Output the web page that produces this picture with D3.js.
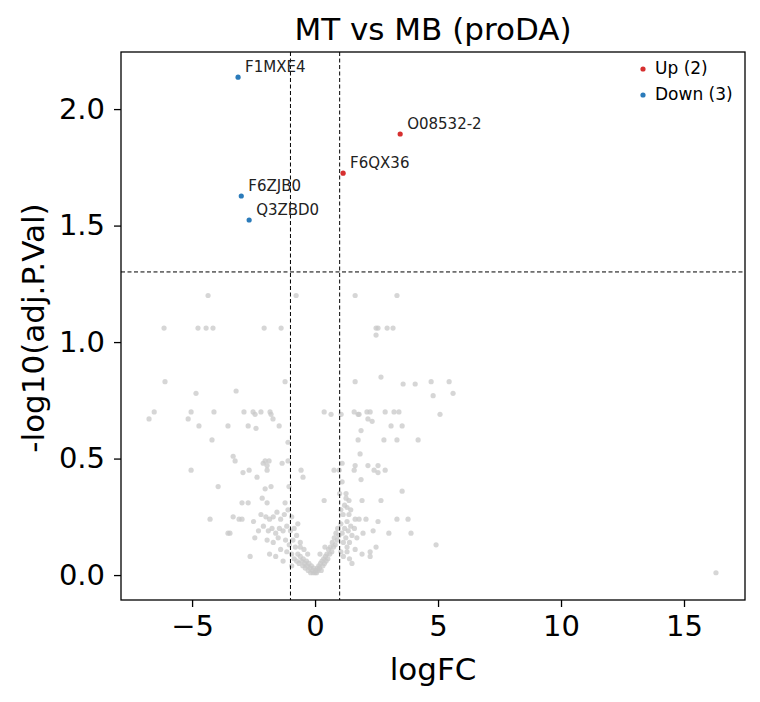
<!DOCTYPE html>
<html><head><meta charset="utf-8">
<script src="https://cdn.jsdelivr.net/npm/d3@7"></script>
<style>body{margin:0;background:#fff}</style>
</head><body>
<svg width="760" height="702"></svg>
<script>
// non-significant proteins [logFC, -log10(adj.P.Val)]
var grey = [
 [-4.35,1.20],[-0.77,1.20],[1.63,1.20],[3.33,1.20],
 [-6.14,1.06],[-4.76,1.06],[-4.43,1.06],[-4.15,1.06],[-2.07,1.06],[-1.38,1.06],
 [2.48,1.06],[2.56,1.06],[2.93,1.06],[3.17,1.06],[2.48,1.03],
 [-6.1,0.83],[-1.22,0.83],[-3.21,0.79],[-4.84,0.78],[1.63,0.83],[2.68,0.85],[3.58,0.82],
 [4.07,0.82],[4.72,0.83],[5.45,0.83],[4.8,0.77],[5.61,0.78],
 [-6.54,0.70],[-6.75,0.67],[-5.04,0.70],[-5.16,0.67],[-4.11,0.70],[-4.72,0.64],[-3.54,0.64],
 [-2.89,0.70],[-2.52,0.70],[-2.44,0.69],[-2.2,0.70],[-1.83,0.70],[-1.79,0.69],[-1.71,0.67],
 [-2.72,0.64],[-2.4,0.63],[-1.46,0.64],[-4.19,0.58],
 [0.37,0.70],[0.65,0.69],[1.06,0.69],[1.59,0.70],[1.75,0.69],[1.79,0.69],[2.11,0.70],[2.24,0.70],
 [2.15,0.67],[2.32,0.66],[2.85,0.70],[3.21,0.70],[3.41,0.70],[5.08,0.69],[1.87,0.62],[3.09,0.64],
 [3.54,0.64],[1.75,0.58],[2.8,0.58],[3.33,0.58],[4.19,0.58],
 [-1.1,0.57],[-3.33,0.51],[-3.25,0.49],[-5.04,0.45],[-2.11,0.48],[-2.03,0.49],[-1.87,0.49],
 [-1.95,0.47],[-1.95,0.45],[-1.34,0.48],[-1.1,0.49],[-2.93,0.44],[-2.68,0.45],[-2.36,0.42],
 [-0.57,0.45],[-0.49,0.42],[-3.94,0.38],[-2.03,0.37],[-1.79,0.38],[-1.06,0.38],[-2.15,0.33],
 [-1.95,0.31],[-2.97,0.31],[-2.72,0.31],[-1.22,0.31],[-4.27,0.24],[-3.33,0.25],[-3.09,0.24],
 [-2.97,0.24],[-3.54,0.18],[-3.46,0.18],[-2.64,0.08],[-1.85,0.09],[-1.6,0.08],
 [1.83,0.52],[1.1,0.48],[1.63,0.47],[1.59,0.45],[2.15,0.47],[2.56,0.47],[2.4,0.45],[2.56,0.44],
 [2.85,0.45],[0.77,0.45],[0.98,0.45],[1.87,0.41],[3.54,0.36],[1.26,0.35],[1.26,0.33],[1.38,0.32],
 [0.37,0.32],[1.91,0.32],[2.68,0.32],[1.3,0.29],[1.14,0.26],[1.38,0.26],[1.63,0.24],[1.79,0.24],
 [2.07,0.24],[2.56,0.23],[3.33,0.24],[3.78,0.24],[3.0,0.18],[3.9,0.18],[2.36,0.19],[1.95,0.18],
 [4.92,0.13],[2.48,0.12],[1.91,0.09],[2.24,0.10],[2.24,0.08],[1.63,0.11],[1.5,0.05],
 [16.3,0.01],
 // left dense cluster
 [-2.2,0.26],[-2.0,0.25],[-1.85,0.24],[-1.7,0.25],[-1.55,0.27],[-1.4,0.24],[-1.25,0.26],[-1.1,0.28],
 [-0.95,0.25],[-2.1,0.21],[-1.9,0.19],[-1.75,0.20],[-1.6,0.18],[-1.45,0.20],[-1.3,0.19],[-1.15,0.21],
 [-1.0,0.19],[-0.85,0.20],[-2.3,0.19],[-1.95,0.15],[-1.7,0.14],[-1.5,0.16],[-1.2,0.15],[-1.05,0.13],
 [-0.9,0.15],[-0.75,0.17],[-1.4,0.11],[-1.15,0.10],[-0.95,0.09],[-0.8,0.12],[-1.3,0.06],[-0.95,0.04],
 [-2.5,0.23],[-2.45,0.16],[-0.7,0.22],[-0.6,0.14],
 // central V
 [-0.85,0.07],[-0.75,0.06],[-0.7,0.09],[-0.65,0.05],[-0.6,0.08],[-0.55,0.06],[-0.5,0.04],[-0.48,0.07],
 [-0.42,0.05],[-0.4,0.03],[-0.35,0.06],[-0.32,0.04],[-0.28,0.02],[-0.25,0.05],[-0.2,0.03],[-0.18,0.01],
 [-0.15,0.04],[-0.1,0.02],[-0.08,0.01],[-0.05,0.03],[0.0,0.01],[0.03,0.02],[0.06,0.01],[0.1,0.03],
 [0.12,0.02],[0.15,0.04],[0.18,0.03],[0.22,0.05],[0.25,0.02],[0.28,0.06],[0.32,0.04],[0.35,0.07],
 [0.38,0.05],[0.42,0.08],[0.45,0.06],[0.48,0.09],[0.52,0.07],[0.55,0.11],[0.6,0.09],[0.62,0.12],
 [0.68,0.10],[0.7,0.14],[0.75,0.12],[0.78,0.16],[0.82,0.13],[0.85,0.18],[0.9,0.15],[0.92,0.20],
 [0.97,0.17],[-0.3,0.09],[0.2,0.09],[-0.45,0.11],[0.4,0.12],[-0.6,0.12],
 // right dense cluster
 [1.05,0.22],[1.1,0.18],[1.15,0.14],[1.2,0.20],[1.25,0.16],[1.3,0.23],[1.35,0.19],[1.45,0.21],
 [1.5,0.17],[1.6,0.20],[1.7,0.16],[1.05,0.10],[1.15,0.08],[1.3,0.12],[1.4,0.14],[1.05,0.28],
 [1.2,0.30],[1.45,0.28],[1.0,0.35],[1.1,0.40],[1.3,0.10],[1.4,0.07]
];
var upGenes = ["O08532-2","F6QX36"];
var upX = [3.46,1.14];
var upY = [1.893,1.725];
var downGenes = ["F1MXE4","F6ZJB0","Q3ZBD0"];
var downX = [-3.13,-3.0,-2.68];
var downY = [2.137,1.627,1.524];
var xTicks = [-5,0,5,10,15];
var yTicks = [0,0.5,1,1.5,2];

var svg = d3.select("svg");
var x = d3.scaleLinear().domain([-7.89,17.48]).range([121,745]);
var y = d3.scaleLinear().domain([-0.107,2.245]).range([600,52]);
var red = "#d62f2f", blue = "#2b7bba";
var font = "DejaVu Sans";

svg.append("g").selectAll("circle").data(grey).enter().append("circle")
    .attr("cx", function(d){ return x(d[0]); })
    .attr("cy", function(d){ return y(d[1]); })
    .attr("r", 2.6).attr("fill", "#c8c8c8").attr("fill-opacity", 0.75);

var dash = "4,2.5";
[-1,1].forEach(function(v){
  svg.append("line").attr("x1", x(v)).attr("x2", x(v)).attr("y1", 52).attr("y2", 600)
     .attr("stroke", "#000").attr("stroke-width", 1).attr("stroke-dasharray", dash);
});
svg.append("line").attr("x1", 121).attr("x2", 745).attr("y1", y(1.301)).attr("y2", y(1.301))
   .attr("stroke", "#000").attr("stroke-width", 1).attr("stroke-dasharray", dash);

function sig(names, xs, ys, col){
  names.forEach(function(n, i){
    svg.append("circle").attr("cx", x(xs[i])).attr("cy", y(ys[i])).attr("r", 2.6).attr("fill", col);
    svg.append("text").attr("x", x(xs[i]) + 7).attr("y", y(ys[i]) - 5)
       .style("font-family", font).style("font-size", "15px").attr("fill", "#222").text(n);
  });
}
sig(upGenes, upX, upY, red);
sig(downGenes, downX, downY, blue);

var xa = svg.append("g").attr("transform", "translate(0,600)")
    .call(d3.axisBottom(x).tickValues(xTicks).tickSize(7).tickPadding(8).tickFormat(function(d){ return d < 0 ? "\u2212" + (-d) : d; }));
var ya = svg.append("g").attr("transform", "translate(121,0)")
    .call(d3.axisLeft(y).tickValues(yTicks).tickSize(7).tickPadding(9).tickFormat(d3.format(".1f")));
[xa, ya].forEach(function(a){
  a.select(".domain").remove();
  a.selectAll("text").style("font-family", font).style("font-size", "29px").attr("fill", "#000");
  a.selectAll("line").attr("stroke", "#000").attr("stroke-width", 1.3);
});
svg.append("rect").attr("x", 121).attr("y", 52).attr("width", 624).attr("height", 548)
   .attr("fill", "none").attr("stroke", "#000").attr("stroke-width", 1.3);

svg.append("text").attr("x", 433).attr("y", 40).attr("text-anchor", "middle")
   .style("font-family", font).style("font-size", "31px").text("MT vs MB (proDA)");
svg.append("text").attr("x", 433).attr("y", 680).attr("text-anchor", "middle")
   .style("font-family", font).style("font-size", "31px").text("logFC");
svg.append("text").attr("transform", "translate(44,328) rotate(-90)").attr("text-anchor", "middle")
   .style("font-family", font).style("font-size", "31px").text("-log10(adj.P.Val)");

[["Up (2)", red, 69], ["Down (3)", blue, 95]].forEach(function(l){
  svg.append("circle").attr("cx", 643).attr("cy", l[2]).attr("r", 2.6).attr("fill", l[1]);
  svg.append("text").attr("x", 655).attr("y", l[2] + 5).style("font-family", font)
     .style("font-size", "17px").text(l[0]);
});
</script>
</body></html>
